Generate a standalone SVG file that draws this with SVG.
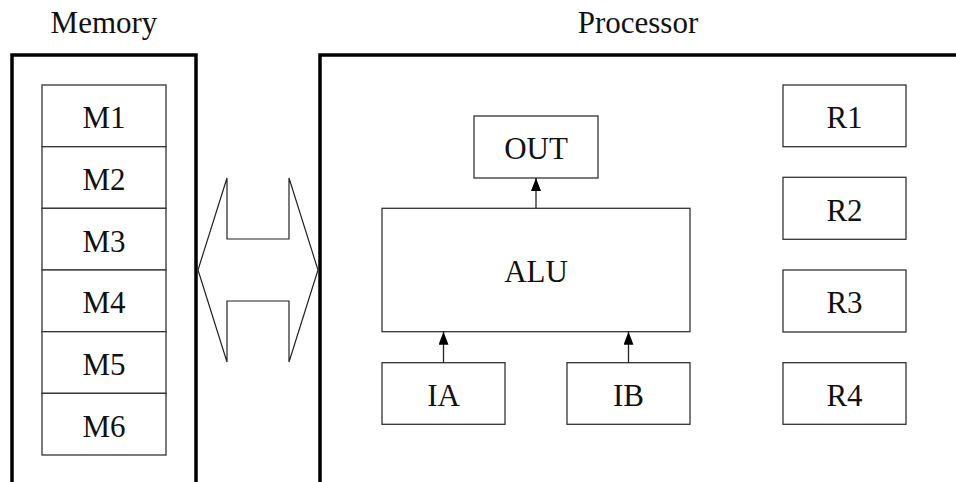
<svg xmlns="http://www.w3.org/2000/svg" width="956" height="482" viewBox="0 0 956 482">
<defs>
<marker id="ah" viewBox="0 0 13 10" refX="13" refY="5" markerWidth="13" markerHeight="10" markerUnits="userSpaceOnUse" orient="auto">
<path d="M0,0 L13,5 L0,10 Z" fill="#000"/>
</marker>
</defs>
<style>
.box{fill:#fff;stroke:#333;stroke-width:1.3}
.frame{fill:none;stroke:#000;stroke-width:3.5}
.lbl{font-family:"Liberation Serif","Times New Roman",serif;font-size:31px;fill:#111;text-anchor:middle}
.con{stroke:#222;stroke-width:1.3;fill:none}
</style>
<rect width="956" height="482" fill="#fff"/>
<g id="memory">
<path class="frame" d="M12,490 L12,55 L196,55 L196,490"/>
<text class="lbl" x="104" y="33">Memory</text>
</g>
<g id="processor">
<path class="frame" d="M320,490 L320,55 L960,55"/>
<text class="lbl" x="638" y="33">Processor</text>
</g>
<g id="M1"><rect class="box" x="42" y="85" width="124" height="61.7"/><text class="lbl" x="104" y="128">M1</text></g>
<g id="M2"><rect class="box" x="42" y="146.7" width="124" height="61.7"/><text class="lbl" x="104" y="190">M2</text></g>
<g id="M3"><rect class="box" x="42" y="208.3" width="124" height="61.7"/><text class="lbl" x="104" y="251.5">M3</text></g>
<g id="M4"><rect class="box" x="42" y="270" width="124" height="61.7"/><text class="lbl" x="104" y="313">M4</text></g>
<g id="M5"><rect class="box" x="42" y="331.7" width="124" height="61.7"/><text class="lbl" x="104" y="375">M5</text></g>
<g id="M6"><rect class="box" x="42" y="393.3" width="124" height="61.7"/><text class="lbl" x="104" y="436.5">M6</text></g>
<g id="bus">
<polygon fill="#fff" stroke="#222" stroke-width="1.2" points="198,270 227,178 227,239 289,239 289,178 318,270 289,362 289,301 227,301 227,362"/>
</g>
<g id="OUT"><rect class="box" x="474" y="116" width="124" height="62"/><text class="lbl" x="536" y="159">OUT</text></g>
<g id="ALU"><rect class="box" x="382" y="208.3" width="308" height="123.4"/><text class="lbl" x="536" y="282">ALU</text></g>
<g id="IA"><rect class="box" x="382" y="362.7" width="123" height="61.6"/><text class="lbl" x="443.5" y="405.5">IA</text></g>
<g id="IB"><rect class="box" x="567" y="362.7" width="123" height="61.6"/><text class="lbl" x="628.5" y="405.5">IB</text></g>
<g id="R1"><rect class="box" x="783" y="85" width="123" height="61.7"/><text class="lbl" x="844.5" y="128">R1</text></g>
<g id="R2"><rect class="box" x="783" y="177.3" width="123" height="62"/><text class="lbl" x="844.5" y="220.5">R2</text></g>
<g id="R3"><rect class="box" x="783" y="270" width="123" height="62"/><text class="lbl" x="844.5" y="313">R3</text></g>
<g id="R4"><rect class="box" x="783" y="362.7" width="123" height="61.6"/><text class="lbl" x="844.5" y="405.5">R4</text></g>
<g id="connectors">
<line class="con" x1="536" y1="208.3" x2="536" y2="178" marker-end="url(#ah)"/>
<line class="con" x1="443.5" y1="362.7" x2="443.5" y2="331.7" marker-end="url(#ah)"/>
<line class="con" x1="628.5" y1="362.7" x2="628.5" y2="331.7" marker-end="url(#ah)"/>
</g>
</svg>
